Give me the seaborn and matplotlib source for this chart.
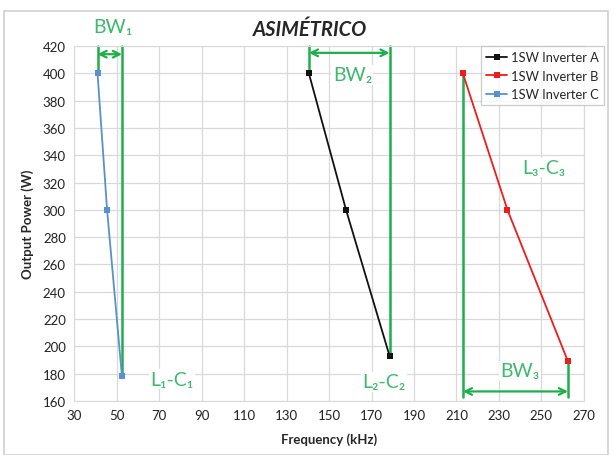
import pandas as pd
import matplotlib
matplotlib.use('Agg')
import matplotlib.pyplot as plt
from matplotlib.patches import Rectangle
import seaborn as sns

# dados
freq_a = [140.5, 158, 178.5]
power_a = [400, 300, 193]
freq_b = [213, 234, 262.5]
power_b = [400, 300, 189]
freq_c = [41, 45.5, 52.5]
power_c = [400, 300, 178]

series = ['1SW Inverter A', '1SW Inverter B', '1SW Inverter C']
cores = {'1SW Inverter A': '#111111', '1SW Inverter B': '#ee1c1c', '1SW Inverter C': '#5b8fd0'}

x_ticks = list(range(30, 271, 20))
y_ticks = list(range(160, 421, 20))

VERDE = '#1fae4c'
VERDE_TXT = '#3cba6c'

df = pd.concat([
    pd.DataFrame({'freq': freq_a, 'power': power_a, 'inv': series[0]}),
    pd.DataFrame({'freq': freq_b, 'power': power_b, 'inv': series[1]}),
    pd.DataFrame({'freq': freq_c, 'power': power_c, 'inv': series[2]}),
])

sns.set_style("white")
plt.rcParams['font.family'] = ['Lato', 'DejaVu Sans']

fig = plt.figure(figsize=(6.14, 4.56), dpi=100)
ax = fig.add_axes([0.1208, 0.1184, 0.951 - 0.1208, 0.8969 - 0.1184])

# moldura externa
fig.patches.append(Rectangle((4 / 614, 0), 604 / 614, 1 - 12 / 456, transform=fig.transFigure,
                             fill=False, edgecolor='#cfcfcf', linewidth=1.2))

for nome in series:
    d = df[df['inv'] == nome]
    sns.lineplot(data=d, x='freq', y='power', ax=ax, color=cores[nome], marker='s',
                 markersize=5, markeredgewidth=0, linewidth=1.3, label=nome,
                 estimator=None, sort=False, zorder=3)

ax.set_xlim(30, 270)
ax.set_ylim(160, 420)
ax.set_xticks(x_ticks)
ax.set_yticks(y_ticks)
ax.grid(True, color='#d9d9d9', linewidth=0.9)
for s in ax.spines.values():
    s.set_color('#d9d9d9')
ax.tick_params(length=0, labelsize=9.5, colors='#222222', pad=6)
ax.set_xlabel('Frequency (kHz)', fontsize=9.5, fontweight='bold', labelpad=8)
ax.set_ylabel('Output Power (W)', fontsize=9.5, fontweight='bold', labelpad=6)
fig.text(0.505, 0.934, 'ASIMÉTRICO', ha='center', va='center', fontsize=14.5,
         fontweight='bold', fontstyle='italic')

# linhas de banda (BW)
def banda(x1, x2, y1a, y2a, y_seta, topo=True, base=163):
    if topo:
        ax.plot([x1, x1], [y1a, 420], color=VERDE, lw=1.8, zorder=2, clip_on=False)
        ax.plot([x2, x2], [y2a, 420], color=VERDE, lw=1.8, zorder=2, clip_on=False)
    else:
        ax.plot([x1, x1], [y1a, base], color=VERDE, lw=1.8, zorder=2)
        ax.plot([x2, x2], [y2a, base], color=VERDE, lw=1.8, zorder=2)
    ax.annotate('', xy=(x2, y_seta), xytext=(x1, y_seta),
                arrowprops=dict(arrowstyle='<->', color=VERDE, lw=1.6,
                                shrinkA=0, shrinkB=0, mutation_scale=12), zorder=2)

banda(freq_c[0], freq_c[-1], power_c[0], power_c[-1], 414)
banda(freq_a[0], freq_a[-1], power_a[0], power_a[-1], 415)
banda(freq_b[0], freq_b[-1], power_b[0], power_b[-1], 167, topo=False)

fundo = dict(facecolor='white', edgecolor='none', pad=1)
ax.text(48, 434, 'BW₁', color=VERDE_TXT, fontsize=14, ha='center', va='center', clip_on=False)
ax.text(161, 399, 'BW₂', color=VERDE_TXT, fontsize=14, ha='center', va='center', bbox=fundo)
ax.text(240, 182, 'BW₃', color=VERDE_TXT, fontsize=14, ha='center', va='center', bbox=fundo)
ax.text(76, 176, 'L₁-C₁', color=VERDE_TXT, fontsize=14, ha='center', va='center', bbox=fundo)
ax.text(176, 174, 'L₂-C₂', color=VERDE_TXT, fontsize=14, ha='center', va='center', bbox=fundo)
ax.text(251, 331, 'L₃-C₃', color=VERDE_TXT, fontsize=14, ha='center', va='center', bbox=fundo)

leg = ax.legend(loc='upper left', bbox_to_anchor=(481 / 614, 1 - 47 / 456),
                bbox_transform=fig.transFigure, fontsize=9.3, frameon=True, fancybox=False,
                handlelength=1.6, handletextpad=0.3, borderpad=0.4, labelspacing=0.5,
                borderaxespad=0)
leg.get_frame().set_edgecolor('#bfbfbf')
leg.get_frame().set_linewidth(0.9)
leg.set_zorder(5)

plt.savefig('out.png', dpi=100)
